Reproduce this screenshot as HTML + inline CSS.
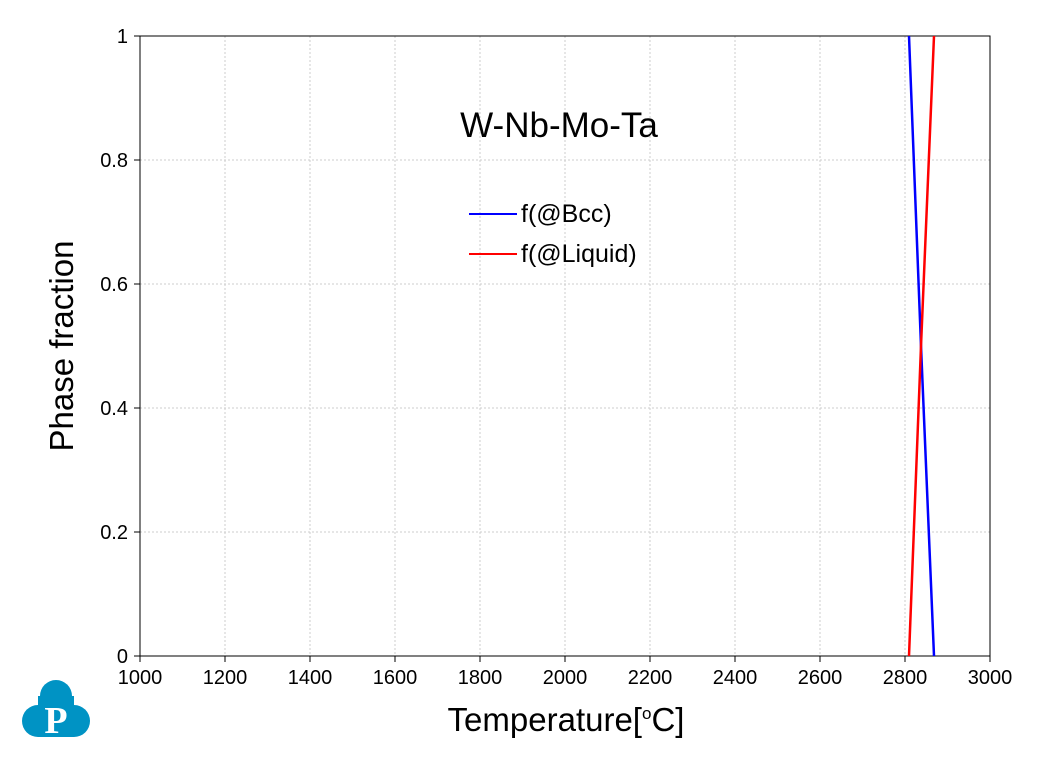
<!DOCTYPE html>
<html><head><style>body{margin:0;background:#fff}svg{display:block}</style></head><body>
<svg width="1050" height="775" xmlns="http://www.w3.org/2000/svg" font-family="Liberation Sans, sans-serif">
<rect width="1050" height="775" fill="#fff"/>
<g stroke="#ccc" stroke-width="1" stroke-dasharray="2,2">
<line x1="225" y1="36" x2="225" y2="656"/><line x1="310" y1="36" x2="310" y2="656"/><line x1="395" y1="36" x2="395" y2="656"/><line x1="480" y1="36" x2="480" y2="656"/><line x1="565" y1="36" x2="565" y2="656"/><line x1="650" y1="36" x2="650" y2="656"/><line x1="735" y1="36" x2="735" y2="656"/><line x1="820" y1="36" x2="820" y2="656"/><line x1="905" y1="36" x2="905" y2="656"/>
<line x1="140" y1="160" x2="990" y2="160"/><line x1="140" y1="284" x2="990" y2="284"/><line x1="140" y1="408" x2="990" y2="408"/><line x1="140" y1="532" x2="990" y2="532"/>
</g>
<rect x="140" y="36" width="850" height="620" fill="none" stroke="#000" stroke-width="1"/>
<g stroke="#000">
<line x1="140" y1="656" x2="140" y2="662"/><line x1="225" y1="656" x2="225" y2="662"/><line x1="310" y1="656" x2="310" y2="662"/><line x1="395" y1="656" x2="395" y2="662"/><line x1="480" y1="656" x2="480" y2="662"/><line x1="565" y1="656" x2="565" y2="662"/><line x1="650" y1="656" x2="650" y2="662"/><line x1="735" y1="656" x2="735" y2="662"/><line x1="820" y1="656" x2="820" y2="662"/><line x1="905" y1="656" x2="905" y2="662"/><line x1="990" y1="656" x2="990" y2="662"/>
<line x1="134" y1="36" x2="140" y2="36"/><line x1="134" y1="160" x2="140" y2="160"/><line x1="134" y1="284" x2="140" y2="284"/><line x1="134" y1="408" x2="140" y2="408"/><line x1="134" y1="532" x2="140" y2="532"/><line x1="134" y1="656" x2="140" y2="656"/>
</g>
<g font-size="20" text-anchor="middle" fill="#000">
<text x="140" y="684">1000</text><text x="225" y="684">1200</text><text x="310" y="684">1400</text><text x="395" y="684">1600</text><text x="480" y="684">1800</text><text x="565" y="684">2000</text><text x="650" y="684">2200</text><text x="735" y="684">2400</text><text x="820" y="684">2600</text><text x="905" y="684">2800</text><text x="990" y="684">3000</text>
</g>
<g font-size="20" text-anchor="end" fill="#000">
<text x="128" y="43">1</text><text x="128" y="167">0.8</text><text x="128" y="291">0.6</text><text x="128" y="415">0.4</text><text x="128" y="539">0.2</text><text x="128" y="663">0</text>
</g>
<text x="566" y="731" font-size="33" text-anchor="middle">Temperature[<tspan font-size="17" dy="-12">o</tspan><tspan dy="12">C]</tspan></text>
<text transform="translate(73,346) rotate(-90)" font-size="33" text-anchor="middle">Phase fraction</text>
<text x="559" y="137" font-size="35" text-anchor="middle">W-Nb-Mo-Ta</text>
<line x1="469" y1="214" x2="517" y2="214" stroke="#0000ff" stroke-width="2"/>
<text x="521" y="222" font-size="25">f(@Bcc)</text>
<line x1="469" y1="254" x2="517" y2="254" stroke="#ff0000" stroke-width="2"/>
<text x="521" y="262" font-size="25">f(@Liquid)</text>
<polyline points="909,36 921,346 934,656" fill="none" stroke="#0000ff" stroke-width="2.5"/>
<polyline points="909,656 921,346 934,36" fill="none" stroke="#ff0000" stroke-width="2.5"/>
<g fill="#0093c4">
<circle cx="56" cy="696" r="16"/><circle cx="38" cy="721" r="16"/><circle cx="74" cy="721" r="16"/><rect x="38" y="696" width="36" height="41"/>
</g>
<text x="56" y="733" font-size="38" font-weight="bold" font-family="Liberation Serif, serif" fill="#fff" text-anchor="middle">P</text>
</svg>
</body></html>
